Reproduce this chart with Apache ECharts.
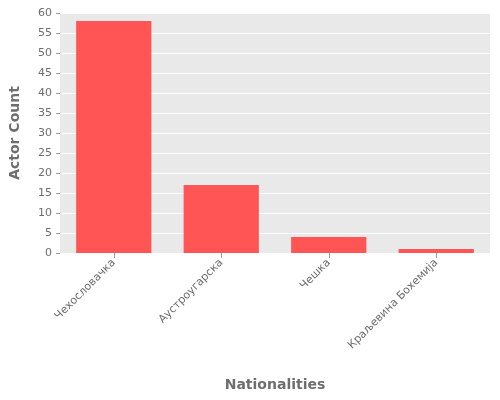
<!DOCTYPE html>
<html><head><meta charset="utf-8">
<script src="https://cdn.jsdelivr.net/npm/echarts@6/dist/echarts.min.js"></script>
<style>html,body{margin:0;padding:0;background:#fff}#c{width:500px;height:400px}</style>
</head><body><div id="c"></div>
<script>
const categories = ["Чехословачка", "Аустроугарска", "Чешка", "Краљевина Бохемија"];
const actorCounts = [58, 17, 4, 1];
const chart = echarts.init(document.getElementById('c'));
chart.setOption({
  animation: false,
  grid: {left: 60, right: 10, top: 13, bottom: 147, backgroundColor: '#e9e9e9', show: true, borderWidth: 0},
  xAxis: {
    type: 'category', data: categories,
    name: 'Nationalities', nameLocation: 'middle', nameGap: 125,
    nameTextStyle: {color: '#6e6e6e', fontSize: 14, fontWeight: 'bold', fontFamily: 'DejaVu Sans'},
    axisLine: {show: false}, axisTick: {show: true, alignWithLabel: true, lineStyle: {color: '#999'}},
    axisLabel: {rotate: 45, color: '#6e6e6e', fontSize: 11, fontFamily: 'DejaVu Sans', interval: 0}
  },
  yAxis: {
    type: 'value', min: 0, max: 60, interval: 5,
    name: 'Actor Count', nameLocation: 'middle', nameGap: 38,
    nameTextStyle: {color: '#6e6e6e', fontSize: 14, fontWeight: 'bold', fontFamily: 'DejaVu Sans'},
    axisLine: {show: false}, axisTick: {show: true, length: 4, lineStyle: {color: '#999'}},
    axisLabel: {color: '#6e6e6e', fontSize: 11, fontFamily: 'DejaVu Sans', margin: 8},
    splitLine: {lineStyle: {color: '#ffffff', width: 1}}
  },
  series: [{type: 'bar', data: actorCounts, barWidth: '70%', itemStyle: {color: '#ff5555'}}]
});
</script></body></html>
